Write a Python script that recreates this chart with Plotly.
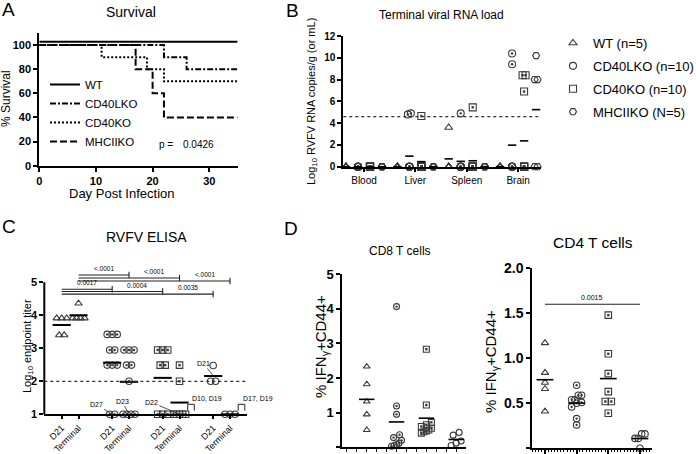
import plotly.graph_objects as go

W, H = 696, 454
FONT = "Liberation Sans, Arial, Helvetica, sans-serif"
INK = "#000000"
MARK = "#3a3a3a"

# ---------------- Panel A: survival ----------------
surv_names = ["WT", "CD40LKO", "CD40KO", "MHCIIKO"]
wt_days = [0, 35]
wt_surv = [100, 100]
cd40l_days = [0, 22, 26, 35]
cd40l_surv = [100, 90, 80, 80]
cd40_days = [0, 11, 19, 22, 35]
cd40_surv = [100, 90, 80, 70, 70]
mhcii_days = [0, 17, 20, 22, 35]
mhcii_surv = [100, 80, 60, 40, 40]
surv_xticks = [0, 10, 20, 30]
surv_yticks = [0, 20, 40, 60, 80, 100]
surv_p = "0.0426"

# ---------------- Panel B: terminal viral RNA (log10) ----------------
tissues = ["Blood", "Liver", "Spleen", "Brain"]
rna_names = ["WT (n=5)", "CD40LKO (n=10)", "CD40KO (n=10)", "MHCIIKO (N=5)"]
rna_wt = [
    [0, 0, 0, 0, 0],
    [0, 0, 0, 0, 0],
    [3.6, 0, 0, 0, 0],
    [0, 0, 0, 0, 0],
]
rna_cd40l = [
    [0, 0, 0, 0, 0, 0, 0, 0, 0, 0],
    [4.9, 4.8, 0, 0, 0, 0, 0, 0, 0, 0],
    [4.9, 0, 0, 0, 0, 0, 0, 0, 0, 0],
    [10.4, 9.4, 0, 0, 0, 0, 0, 0, 0, 0],
]
rna_cd40 = [
    [0, 0, 0, 0, 0, 0, 0, 0, 0, 0],
    [4.65, 0, 0, 0, 0, 0, 0, 0, 0, 0],
    [5.45, 0, 0, 0, 0, 0, 0, 0, 0, 0],
    [8.4, 8.4, 6.9, 0, 0, 0, 0, 0, 0, 0],
]
rna_mhcii = [
    [0, 0, 0, 0, 0],
    [0, 0, 0, 0, 0],
    [0, 0, 0, 0, 0],
    [10.2, 8.0, 8.0, 0, 0],
]
rna_lod = 4.6
rna_yticks = [0, 2, 4, 6, 8, 10, 12]

# ---------------- Panel C: RVFV ELISA (log10 endpoint titer) ----------------
elisa_times = ["D21", "Terminal"]
elisa_wt = [[3.91, 3.91, 3.91, 3.40, 3.40], [4.36, 3.91, 3.91, 3.91, 3.91]]
elisa_cd40l = [[3.42, 3.42, 3.42, 2.95, 2.95, 2.49, 2.49, 2.49, 1.0, 1.0],
               [2.95, 2.95, 2.95, 2.49, 2.49, 2.0, 1.0, 1.0, 1.0, 1.0]]
elisa_cd40 = [[2.95, 2.95, 2.95, 2.49, 2.49, 1.0, 1.0, 1.0],
              [2.49, 2.0, 1.0, 1.0, 1.0, 1.0, 1.0]]
elisa_mhcii = [[2.48, 2.0, 2.0], [1.0, 1.0, 1.0]]
elisa_lod = 2.0
elisa_yticks = [1, 2, 3, 4, 5]
# (left column, right column, bracket level, p-value)
elisa_stats = [
    (1, 4, 5.22, "<.0001"),
    (1, 7, 5.13, "<.0001"),
    (1, 10, 5.04, "<.0001"),
    (0, 3, 4.79, "0.0017"),
    (0, 6, 4.72, "0.0004"),
    (0, 9, 4.64, "0.0035"),
]

# ---------------- Panel D: T cells (% IFNg+CD44+) ----------------
cd8_wt = [2.33, 1.82, 1.32, 0.95, 0.50]
cd8_cd40l = [4.06, 1.19, 0.95, 0.36, 0.28, 0.20, 0.12, 0.08, 0.05, 0.03]
cd8_cd40 = [2.83, 1.22, 0.72, 0.65, 0.60, 0.55, 0.50, 0.47, 0.45, 0.41]
cd8_mhcii = [0.43, 0.35, 0.18, 0.12, 0.05]
cd8_yticks = [0, 1, 2, 3, 4, 5]
cd4_wt = [1.17, 0.84, 0.73, 0.66, 0.41]
cd4_cd40l = [0.70, 0.59, 0.59, 0.54, 0.54, 0.51, 0.50, 0.46, 0.33, 0.26]
cd4_cd40 = [1.48, 1.05, 0.83, 0.63, 0.52, 0.52, 0.39]
cd4_mhcii = [0.16, 0.16, 0.11, 0.11, 0.0]
cd4_yticks = [0.0, 0.5, 1.0, 1.5, 2.0]
cd4_stat = (0, 3, 1.6, "0.0015")

# ======================= geometry (pixels) =======================
GA = dict(xd=(39.3, 237.6), yd=(165.7, 33.0), xr=(0, 35), yr=(0, 110))
GB = dict(xd=(343.3, 541.0), yd=(166.7, 36.0), xr=(-0.225, 16.25), yr=(0, 12))
GC = dict(xd=(44.3, 247.0), yd=(414.3, 261.8), xr=(-1.034, 11.01), yr=(1, 5.62))
GD8 = dict(xd=(342.3, 466.0), yd=(447.3, 274.0), xr=(-0.82, 3.33), yr=(0, 5))
GD4 = dict(xd=(532.3, 652.0), yd=(448.3, 268.3), xr=(-0.40, 3.38), yr=(0, 2))
B_CAT = 4.28      # spacing between tissue groups (x units)
C_GRP = 3         # spacing between genotype groups in ELISA
WT_NUDGE = 2.7    # GraphPad offsets the 100% WT line for visibility


def xdom(g):
    return [g["xd"][0] / W, g["xd"][1] / W]


def ydom(g):
    return [1 - g["yd"][0] / H, 1 - g["yd"][1] / H]


def ppu_x(g):
    return (g["xd"][1] - g["xd"][0]) / (g["xr"][1] - g["xr"][0])


def ppu_y(g):
    return (g["yd"][0] - g["yd"][1]) / (g["yr"][1] - g["yr"][0])


def px_x(g, v):
    return g["xd"][0] + (v - g["xr"][0]) * ppu_x(g)


def px_y(g, v):
    return g["yd"][0] - (v - g["yr"][0]) * ppu_y(g)


def PX(px):
    return px / W


def PY(py):
    return 1 - py / H


def swarm(vals, g, size_px, cap_px, max_n=99):
    order = sorted(range(len(vals)), key=lambda k: vals[k])
    rows = []
    for k in order:
        if rows and abs(vals[k] - vals[rows[-1][0]]) * ppu_y(g) < size_px:
            rows[-1].append(k)
        else:
            rows.append([k])
    offs = [0.0] * len(vals)
    for row in rows:
        n = len(row)
        if 1 < n <= max_n:
            step = min(size_px, cap_px / (n - 1))
            for r, k in enumerate(row):
                offs[k] = (r - (n - 1) / 2) * step / ppu_x(g)
    return offs


fig = go.Figure()
annotations = []
shapes = []


def ann(text, px, py, size, **kw):
    d = dict(xref="paper", yref="paper", x=PX(px), y=PY(py), text=text,
             xanchor="center", yanchor="middle",
             showarrow=False, font=dict(family=FONT, size=size, color=INK))
    d.update(kw)
    annotations.append(d)


def seg(x0, y0, x1, y1, width=1.0, color="#222222", dash=None):
    ln = dict(color=color, width=width)
    if dash:
        ln["dash"] = dash
    shapes.append(dict(type="line", xref="paper", yref="paper",
                       x0=PX(x0), y0=PY(y0), x1=PX(x1), y1=PY(y1), line=ln))


def points(xs, ys, sym, size, xa, ya, **kw):
    """open symbol; symbols ending in '-dot' get a visible centre dot"""
    base = sym.replace("-dot", "")
    fig.add_trace(go.Scatter(
        x=xs, y=ys, mode="markers",
        marker=dict(symbol=base, size=size, color=MARK, line=dict(width=1.1, color=MARK)),
        xaxis=xa, yaxis=ya, cliponaxis=False, **kw))
    if sym.endswith("-dot"):
        fig.add_trace(go.Scatter(
            x=xs, y=ys, mode="markers", showlegend=False, hoverinfo="skip",
            marker=dict(symbol="circle" if "circle" in sym else "square", size=2.4,
                        color=MARK, line=dict(width=0)),
            xaxis=xa, yaxis=ya, cliponaxis=False))


# ---------------- Panel A traces ----------------
surv_sets = [(wt_days, wt_surv, "solid"), (cd40l_days, cd40l_surv, "6px,2px,2px,2px"),
             (cd40_days, cd40_surv, "2px,2px"), (mhcii_days, mhcii_surv, "7px,3px")]
for name, (d, s, dash) in zip(surv_names, surv_sets):
    nudge = WT_NUDGE if name == "WT" else 0
    fig.add_trace(go.Scatter(
        x=d, y=[v + nudge for v in s], mode="lines", name=name,
        line=dict(color=INK, width=2, dash=dash, shape="hv"),
        xaxis="x", yaxis="y", legend="legend", cliponaxis=False))

# ---------------- Panel B traces ----------------
rna_sets = [rna_wt, rna_cd40l, rna_cd40, rna_mhcii]
rna_symbols = ["triangle-up-open", "circle-open-dot", "square-open-dot", "hexagon2-open"]
mean_x, mean_y = [], []
for j, (name, data, sym) in enumerate(zip(rna_names, rna_sets, rna_symbols)):
    xs, ys = [], []
    for i, vals in enumerate(data):
        offs = swarm(vals, GB, 3, 3, max_n=2)
        for v, o in zip(vals, offs):
            xs.append(i * B_CAT + j + o)
            ys.append(v)
        mean_x.append(i * B_CAT + j)
        mean_y.append(sum(vals) / len(vals))
    points(xs, ys, sym, 7, "x2", "y2", name=name, legendgroup=name, legend="legend2")
fig.add_trace(go.Scatter(
    x=mean_x, y=mean_y, mode="markers", showlegend=False,
    marker=dict(symbol="line-ew", size=6, line=dict(width=1.6, color=INK)),
    xaxis="x2", yaxis="y2", cliponaxis=False))

# ---------------- Panel C traces ----------------
elisa_sets = [elisa_wt, elisa_cd40l, elisa_cd40, elisa_mhcii]
elisa_symbols = ["triangle-up-open", "circle-open-dot", "square-open-dot", "circle-open"]
cmx, cmy = [], []
for g_i, (data, sym) in enumerate(zip(elisa_sets, elisa_symbols)):
    xs, ys = [], []
    for t, vals in enumerate(data):
        offs = swarm(vals, GC, 5, 12)
        for v, o in zip(vals, offs):
            xs.append(g_i * C_GRP + t + o)
            ys.append(v)
        cmx.append(g_i * C_GRP + t)
        cmy.append(sum(vals) / len(vals))
    points(xs, ys, sym, 6.5, "x3", "y3", showlegend=False)
fig.add_trace(go.Scatter(
    x=cmx, y=cmy, mode="markers", showlegend=False,
    marker=dict(symbol="line-ew", size=13, line=dict(width=2, color=INK)),
    xaxis="x3", yaxis="y3", cliponaxis=False))

# ---------------- Panel D traces ----------------
d_symbols = ["triangle-up-open", "circle-open-dot", "square-open-dot", "circle-open"]
for data_sets, g, xa, ya, msize, mw in [
        ([cd8_wt, cd8_cd40l, cd8_cd40, cd8_mhcii], GD8, "x4", "y4", 6, 11),
        ([cd4_wt, cd4_cd40l, cd4_cd40, cd4_mhcii], GD4, "x5", "y5", 6.5, 12)]:
    mx, my = [], []
    for j, (vals, sym) in enumerate(zip(data_sets, d_symbols)):
        offs = swarm(vals, g, 6, 10)
        points([j + o for o in offs], vals, sym, msize, xa, ya, showlegend=False)
        mx.append(j)
        my.append(sum(vals) / len(vals))
    fig.add_trace(go.Scatter(
        x=mx, y=my, mode="markers", showlegend=False,
        marker=dict(symbol="line-ew", size=mw, line=dict(width=1.6, color=INK)),
        xaxis=xa, yaxis=ya, cliponaxis=False))

# ---------------- axes ----------------
def axis(g, which, **kw):
    base = dict(domain=xdom(g) if which == "x" else ydom(g),
                range=list(g["xr"] if which == "x" else g["yr"]),
                showgrid=False, zeroline=False, showline=True, linecolor=INK,
                linewidth=2, ticks="outside", tickcolor=INK, tickwidth=2, ticklen=4,
                fixedrange=True, automargin=False)
    base.update(kw)
    return base


bold = lambda s: dict(family=FONT, size=s, color=INK, weight="bold")
reg = lambda s: dict(family=FONT, size=s, color=INK)

layout_axes = dict(
    xaxis=axis(GA, "x", anchor="y", tickvals=surv_xticks, tickfont=bold(11)),
    yaxis=axis(GA, "y", anchor="x", tickvals=surv_yticks, tickfont=bold(11)),
    xaxis2=axis(GB, "x", anchor="y2", linewidth=1.8, tickwidth=1.5, ticklen=3,
                tickvals=[i * B_CAT + 1.5 for i in range(len(tissues))],
                ticktext=tissues, tickfont=reg(10)),
    yaxis2=axis(GB, "y", anchor="x2", linewidth=1.8, tickwidth=1.5,
                tickvals=rna_yticks, tickfont=bold(10)),
    xaxis3=axis(GC, "x", anchor="y3", ticklen=3,
                tickvals=[g_i * C_GRP + t for g_i in range(4) for t in range(2)],
                ticktext=[elisa_times[t] for g_i in range(4) for t in range(2)],
                tickangle=-45, tickfont=reg(9)),
    yaxis3=axis(GC, "y", anchor="x3", showline=False, tickvals=elisa_yticks,
                tickfont=bold(11)),
    xaxis4=axis(GD8, "x", anchor="y4", tickvals=[k / 3 for k in range(-2, 11)],
                showticklabels=False, ticklen=3, tickwidth=1.2),
    yaxis4=axis(GD8, "y", anchor="x4", tickvals=cd8_yticks, tickfont=bold(13)),
    xaxis5=axis(GD4, "x", anchor="y5", tickvals=[0, 1, 2, 3], showticklabels=False,
                ticklen=4, tickwidth=1.5,
                minor=dict(dtick=0.1, ticklen=2, tickwidth=1, tickcolor=INK, ticks="outside")),
    yaxis5=axis(GD4, "y", anchor="x5", tickvals=cd4_yticks, tickformat=".1f",
                tickfont=bold(14)),
)

# C y axis line (only spans 1..5; the brackets sit above it)
seg(GC["xd"][0], px_y(GC, elisa_yticks[0]), GC["xd"][0], px_y(GC, elisa_yticks[-1]),
    width=2, color=INK)

# LOD lines
seg(GB["xd"][0], px_y(GB, rna_lod), GB["xd"][1], px_y(GB, rna_lod), width=1.2,
    color="#333333", dash="dot")
seg(GC["xd"][0], px_y(GC, elisa_lod), GC["xd"][1], px_y(GC, elisa_lod), width=1.2,
    color="#333333", dash="dot")

# C significance brackets
prev_end = {}
for xl, xr, lvl, lab in elisa_stats:
    x0, x1, y = px_x(GC, xl), px_x(GC, xr), px_y(GC, lvl)
    seg(x0, y, x1, y, width=1.1)
    seg(x1, y - 3.2, x1, y + 3.2, width=1.1)
    start = prev_end.get(xl, xl)
    prev_end[xl] = xr
    ann(lab, (px_x(GC, start) + x1) / 2, y - 0.8, 6.5, yanchor="bottom")

# CD4 bracket
xl, xr, lvl, lab = cd4_stat
seg(px_x(GD4, xl), px_y(GD4, lvl), px_x(GD4, xr), px_y(GD4, lvl), width=1.1)
ann(lab, (px_x(GD4, xl) + px_x(GD4, xr)) / 2, px_y(GD4, lvl) - 1, 7, yanchor="bottom")

# C death-day notes
def note(text, col, val, dx, dy):
    annotations.append(dict(xref="x3", yref="y3", x=col, y=val, text=text, showarrow=True,
                            arrowhead=0, arrowwidth=0.8, arrowcolor="#222222", ax=dx, ay=dy,
                            standoff=1, font=dict(family=FONT, size=7, color=INK)))


note("D27", 3, 1.0, -16, -10)
note("D23", 4, 1.0, -7, -13)
note("D22", 7, 1.0, -28, -12)
note("D21", 9, 2.18, -10, -12)


def small_bracket(col, text):
    xa = px_x(GC, col) + 8.2
    xb = xa + 6.6
    yb = px_y(GC, 1.0) - 3.6
    yt = yb - 6.4
    seg(xa, yb, xa, yt, width=1.0)
    seg(xa, yt, xb, yt, width=1.0)
    seg(xb, yt, xb, yb, width=1.0)
    ann(text, xa + 2.3, yt - 0.5, 7, xanchor="left", yanchor="bottom")


small_bracket(7, "D10, D19")
small_bracket(10, "D17, D19")

# ---------------- titles and labels ----------------
ann("A", 8, 10, 19)
ann("B", 292, 11, 19)
ann("C", 9, 226, 19)
ann("D", 291, 228, 19)
ann("Survival", 131, 12, 14)
ann("Terminal viral RNA load", 441, 15, 12)
ann("RVFV ELISA", 146, 237, 14)
ann("CD8 T cells", 400, 251, 12)
ann("CD4 T cells", 593, 242, 15.5)
ann("% Survival", 6, 99, 12, textangle=-90)
ann("Day Post Infection", 122, 193, 13)
ann("Log<sub>10</sub> RVFV RNA copies/g (or mL)", 312, 102, 11, textangle=-90)
ann("Log<sub>10</sub> endpoint titer", 28, 346, 11, textangle=-90)
ann("% IFN<sub>γ</sub>+CD44+", 321, 347, 15, textangle=-90)
ann("% IFN<sub>γ</sub>+CD44+", 491, 362, 15, textangle=-90)
ann("p =", 157, 145, 10, xanchor="left")
ann(surv_p, 181, 145, 10, xanchor="left")

fig.update_layout(
    width=W, height=H, margin=dict(l=0, r=0, t=0, b=0, autoexpand=False),
    paper_bgcolor="white", plot_bgcolor="rgba(0,0,0,0)",
    font=dict(family=FONT, color=INK),
    showlegend=True,
    legend=dict(x=PX(45), y=PY(70), xanchor="left", yanchor="top",
                bgcolor="rgba(0,0,0,0)", borderwidth=0, font=reg(11.5),
                tracegroupgap=0),
    legend2=dict(x=PX(553), y=PY(28), xanchor="left", yanchor="top",
                 bgcolor="rgba(0,0,0,0)", borderwidth=0, font=reg(13),
                 tracegroupgap=3),
    annotations=annotations, shapes=shapes,
    **layout_axes,
)

# the page's default 8px body margin would shift the 696x454 figure out of the window
fig.write_html("out.html", config={"displayModeBar": False},
               post_script="document.body.style.margin='0px';")
